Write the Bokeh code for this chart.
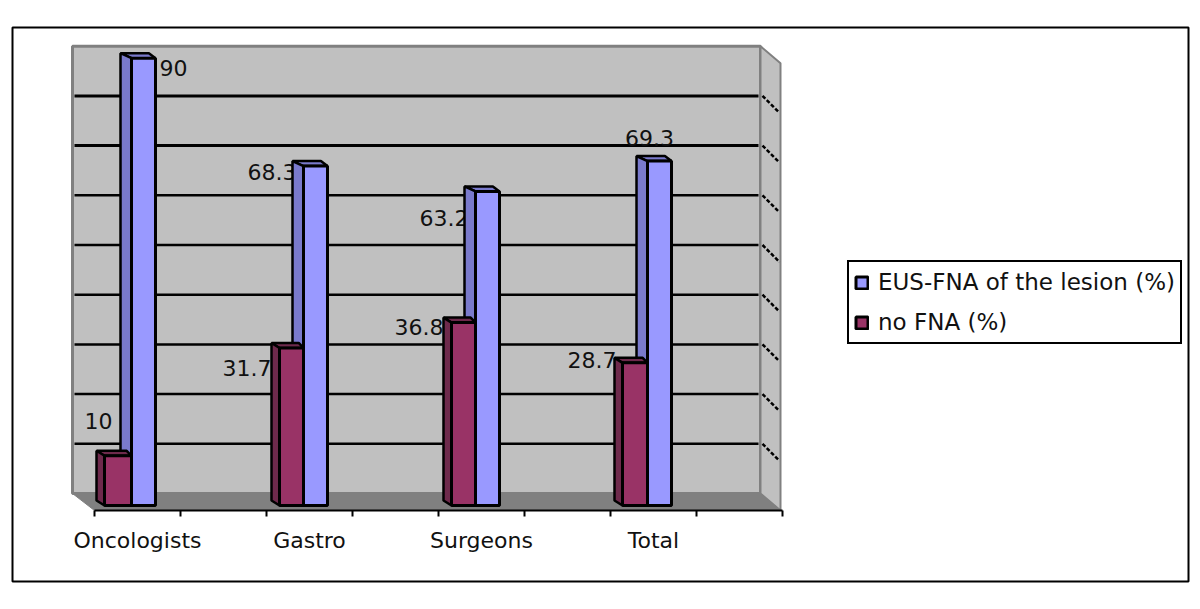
from bokeh.plotting import figure
from bokeh.models import Range1d, LinearAxis, FixedTicker, Legend, LegendItem
from bokeh.core.properties import value
from bokeh.embed import file_html
from bokeh.resources import INLINE

# ---- data ----
categories = ["Oncologists", "Gastro", "Surgeons", "Total"]
eus_fna = [90, 68.3, 63.2, 69.3]
no_fna = [10, 31.7, 36.8, 28.7]
eus_labels = ["90", "68.3", "63.2", "69.3"]
no_labels = ["10", "31.7", "36.8", "28.7"]
gridlines = [10, 20, 30, 40, 50, 60, 70, 80]
series_names = ["EUS-FNA of the lesion (%)", "no FNA (%)"]

# ---- layout (pixel calibration of the value/category scales) ----
FL, FR, FT, FB = 12, 1188, 27, 581        # frame on the window
PW, PH = 1196, 600
X0, XU = 94, 172                          # px of category 0, px per category
Y0, YU = 505, 4.97                        # px of value 0 at bar plane, px per unit
def X(px): return (px - X0) / XU
def Y(py): return (Y0 - py) / YU
def DX(px): return px / XU
def DY(px): return px / YU

FONT = "DejaVu Sans"
FS = "22px"

p = figure(width=PW, height=PH, output_backend="svg", toolbar_location=None,
           x_range=Range1d(X(FL), X(FR)), y_range=Range1d(Y(FB), Y(FT)),
           min_border_left=FL, min_border_right=PW - FR,
           min_border_top=FT, min_border_bottom=PH - FB,
           background_fill_color="white", border_fill_color="white",
           outline_line_color="black", outline_line_width=2, outline_line_alpha=1)
p.xaxis.visible = False
p.yaxis.visible = False
p.xgrid.visible = False
p.ygrid.visible = False

n = len(categories)
# plane geometry: back wall, floor and side wall, in scale units
b_left, b_right, f_left, f_right = X(72), X(760), X(94), X(780)
val_top = 90
back_base, front_base = Y(493), Y(510)
wall_top_back = back_base + val_top
wall_top_front = front_base + val_top

WALL, FLOOR = "#c0c0c0", "#808080"
p.patch([b_left, b_right, b_right, b_left], [back_base, back_base, wall_top_back, wall_top_back],
        fill_color=WALL, line_color=FLOOR, line_width=3)
p.patch([b_right, f_right, f_right, b_right], [back_base, front_base, wall_top_front, wall_top_back],
        fill_color=WALL, line_color=FLOOR, line_width=2)
p.patch([b_left, f_left, f_right, b_right], [back_base, front_base, front_base, back_base],
        fill_color=FLOOR, line_color=FLOOR, line_width=1)

for i, g in enumerate(gridlines):
    w = 3 if g >= 70 else 2.5
    p.line([b_left + DX(2), b_right - DX(2)], [back_base + g, back_base + g], line_color="black", line_width=w)
    p.line([b_right + DX(2), f_right - DX(1)], [back_base + g, front_base + g],
           line_color="black", line_width=2.5, line_dash="4 2")

# value labels sit behind the bars
blue_left = [131, 303, 475, 647]
maroon_left = [104, 279, 451, 622]
blue_w, blue_depth, maroon_depth = 24, 11, 8

lab_x = [X(159), X(296), X(468), X(649)]
lab_y = [Y(67), Y(171), Y(217), Y(137)]
lab_a = ["left", "right", "right", "center"]
lab2_x = [X(98), X(271), X(443), X(616)]
lab2_y = [Y(420), Y(367), Y(326), Y(359)]
lab2_a = ["center", "right", "right", "right"]
p.text(lab_x, lab_y, text=eus_labels, text_align=lab_a, text_baseline="middle",
       text_font=value(FONT), text_font_size=FS, text_color="#111111")
p.text(lab2_x, lab2_y, text=no_labels, text_align=lab2_a, text_baseline="middle",
       text_font=value(FONT), text_font_size=FS, text_color="#111111")

def bar(left_px, width_px, depth_px, v, face, side):
    l, r = X(left_px), X(left_px + width_px)
    d, h = DX(depth_px), DY(5)
    # top and left side faces
    p.patch([l - d, r - d * .6, r, l], [v + h, v + h, v, v], fill_color=side, line_color="black", line_width=2.5)
    p.patch([l - d, l, l, l - d], [h, 0, v, v + h], fill_color=side, line_color="black", line_width=2.5)

BLUE, BLUE_SIDE = "#9999ff", "#7a7acc"
MAROON, MAROON_SIDE = "#993366", "#6e2a4c"

for i in range(n):
    bar(blue_left[i], blue_w, blue_depth, eus_fna[i], BLUE, BLUE_SIDE)
blue_r = p.quad(left=[X(v) for v in blue_left], right=[X(v + blue_w) for v in blue_left],
                bottom=[0] * n, top=eus_fna, fill_color=BLUE, line_color="black", line_width=3)
for i in range(n):
    bar(maroon_left[i], blue_left[i] - maroon_left[i], maroon_depth, no_fna[i], MAROON, MAROON_SIDE)
maroon_r = p.quad(left=[X(v) for v in maroon_left], right=[X(v) for v in blue_left],
                  bottom=[0] * n, top=no_fna, fill_color=MAROON, line_color="black", line_width=3)

# axes
tick_axis = LinearAxis(ticker=FixedTicker(ticks=[k / 2 for k in range(2 * n + 1)]),
                       fixed_location=front_base, bounds=(0, n),
                       major_label_text_font_size="0px", major_label_text_color=None,
                       axis_line_color="black", axis_line_width=2,
                       major_tick_line_color="black", major_tick_line_width=2,
                       major_tick_in=0, major_tick_out=6, minor_tick_line_color=None)
p.add_layout(tick_axis, "below")
cat_ticks = [k + 0.25 for k in range(n)]
cat_axis = LinearAxis(ticker=FixedTicker(ticks=cat_ticks), fixed_location=front_base,
                      major_label_overrides={t: c for t, c in zip(cat_ticks, categories)},
                      major_label_text_font=FONT, major_label_text_font_size=FS,
                      major_label_text_color="#111111", major_label_standoff=11,
                      axis_line_color=None, major_tick_line_color=None, minor_tick_line_color=None)
p.add_layout(cat_axis, "below")

legend = Legend(items=[LegendItem(label=series_names[0], renderers=[blue_r]),
                       LegendItem(label=series_names[1], renderers=[maroon_r])],
                location=(847 - FL, FB - 344), orientation="vertical",
                border_line_color="black", border_line_width=2, border_line_alpha=1,
                background_fill_color="white",
                background_fill_alpha=1, label_text_font=FONT, label_text_font_size="23px",
                label_text_color="#111111", glyph_width=15, glyph_height=15,
                padding=5, spacing=10, margin=0, label_standoff=9, label_height=30)
p.add_layout(legend, "center")

open("out.html", "w").write(file_html(p, INLINE))
